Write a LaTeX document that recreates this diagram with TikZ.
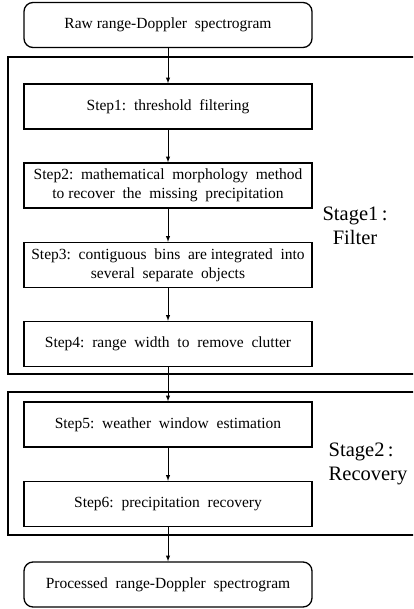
\documentclass[tikz,border=0pt]{standalone}
\usepackage{fontspec}
\setmainfont{Liberation Serif}
\usepackage{tikz}
\usetikzlibrary{positioning,shapes,arrows,calc}

\begin{document}
\begin{tikzpicture}[x=1pt, y=-1pt,
    stepbox/.style={draw, line width=1.3pt, minimum width=288pt, minimum height=45pt,
      inner sep=2pt, align=center, font=\fontsize{15.5}{19}\selectfont},
    endbox/.style={stepbox, rounded corners=9pt},
    stagelabel/.style={font=\fontsize{20.5}{24}\selectfont},
    frame/.style={line width=2.2pt}]
  \clip (0,0) rectangle (413,609);
  % outer stage frames
  \draw[frame] (8,57) rectangle (430,374);
  \draw[frame] (8,392) rectangle (430,535);
  % boxes
  \node[endbox] (raw) at (168,25) {Raw range-Doppler\ \ spectrogram};
  \node[stepbox] (s1) at (168,106.5) {Step1:\ \ threshold\ \ filtering};
  \node[stepbox] (s2) at (168,185.5) {Step2:\ \ mathematical\ \ morphology\ \ method\\to recover\ \ the\ \ missing\ \ precipitation};
  \node[stepbox] (s3) at (168,265) {Step3:\ \ contiguous\ \ bins\ \ are\ integrated\ \ into\\several\ \ separate\ \ objects};
  \node[stepbox] (s4) at (168,344) {Step4:\ \ range\ \ width\ \ to\ \ remove\ \ clutter};
  \node[stepbox] (s5) at (168,424.5) {Step5:\ \ weather\ \ window\ \ estimation};
  \node[stepbox] (s6) at (168,504) {Step6:\ \ precipitation\ \ recovery};
  \node[endbox] (out) at (168,584.5) {Processed\ \ range-Doppler\ \ spectrogram};
  % stage labels
  \node[stagelabel, align=center] (st1) at (355,226) {Stage1\,:\\Filter};
  \node[stagelabel, align=left] (st2) at (368,464) {Stage2\,:\\Recovery};
  % arrows
  \draw[line width=1pt, -latex] (raw) -- (s1);
  \draw[line width=1pt, -latex] (s1) -- (s2);
  \draw[line width=1pt, -latex] (s2) -- (s3);
  \draw[line width=1pt, -latex] (s3) -- (s4);
  \draw[line width=1pt, -latex] (s4) -- (s5);
  \draw[line width=1pt, -latex] (s5) -- (s6);
  \draw[line width=1pt, -latex] (s6) -- (out);
\end{tikzpicture}
\end{document}
